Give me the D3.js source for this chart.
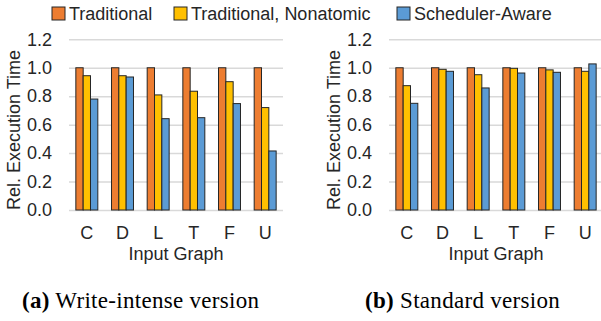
<!DOCTYPE html>
<html>
<head>
<meta charset="utf-8">
<script src="https://cdn.jsdelivr.net/npm/d3@7"></script>
<style>
  body { margin: 0; background: #fff; }
  svg { display: block; }
</style>
</head>
<body>
<div id="chart"></div>
<script>
// data
const graphs = ["C", "D", "L", "T", "F", "U"];
const seriesNames = ["Traditional", "Traditional, Nonatomic", "Scheduler-Aware"];
const colors = ["#ED7D31", "#FFC000", "#5B9BD5"];
const yTicks = [0, 0.2, 0.4, 0.6, 0.8, 1.0, 1.2];

// write-intense version
const writeTraditional = [1.0, 1.0, 1.0, 1.0, 1.0, 1.0];
const writeNonatomic = [0.944, 0.944, 0.809, 0.835, 0.902, 0.72];
const writeAware = [0.78, 0.935, 0.642, 0.649, 0.748, 0.415];

// standard version
const stdTraditional = [1.0, 1.0, 1.0, 1.0, 1.0, 1.0];
const stdNonatomic = [0.874, 0.989, 0.951, 0.996, 0.985, 0.975];
const stdAware = [0.75, 0.975, 0.858, 0.963, 0.968, 1.027];

const W = 601, H = 321;
const font = "'Liberation Sans', Arial, sans-serif";
const fs = 18;

const svg = d3.select("#chart").append("svg")
  .attr("width", W).attr("height", H);

// legend
const legendX = [52, 174, 397];
seriesNames.forEach((name, i) => {
  svg.append("rect")
    .attr("x", legendX[i]).attr("y", 7)
    .attr("width", 13).attr("height", 13)
    .attr("fill", colors[i]).attr("stroke", "#262626").attr("stroke-width", 1);
  svg.append("text")
    .attr("x", legendX[i] + 17).attr("y", 20)
    .attr("font-family", font).attr("font-size", fs).attr("fill", "#262626")
    .text(name);
});

function panel(left, right, series, caption, capX) {
  const y = d3.scaleLinear().domain([0, 1.2]).range([210, 39.3]);
  const x0 = d3.scaleBand().domain(graphs).range([left, right])
    .paddingInner(0.384).paddingOuter(0.192);
  const x1 = d3.scaleBand().domain([0, 1, 2]).range([0, x0.bandwidth()]);

  const g = svg.append("g");

  // gridlines via axis
  const yAxis = g.append("g")
    .attr("transform", "translate(" + left + ",0)")
    .call(d3.axisLeft(y).tickValues(yTicks).tickFormat(d3.format(".1f"))
      .tickSize(-(right - left)).tickPadding(17));
  yAxis.select(".domain").remove();
  yAxis.selectAll(".tick line").attr("stroke", "#D9D9D9").attr("stroke-width", 1.5);
  yAxis.selectAll(".tick text")
    .attr("font-family", font).attr("font-size", fs).attr("fill", "#262626");

  // bars
  const groups = g.selectAll(".grp").data(graphs).enter().append("g")
    .attr("transform", d => "translate(" + x0(d) + ",0)");
  groups.selectAll("rect")
    .data((d, gi) => series.map((s, si) => ({ si: si, v: s[gi] })))
    .enter().append("rect")
    .attr("x", d => x1(d.si))
    .attr("y", d => y(d.v))
    .attr("width", x1.bandwidth())
    .attr("height", d => y(0) - y(d.v))
    .attr("fill", d => colors[d.si])
    .attr("stroke", "#262626").attr("stroke-width", 1);

  // x labels
  g.selectAll(".xl").data(graphs).enter().append("text")
    .attr("x", d => x0(d) + x0.bandwidth() / 2).attr("y", 239)
    .attr("text-anchor", "middle")
    .attr("font-family", font).attr("font-size", fs).attr("fill", "#262626")
    .text(d => d);

  g.append("text")
    .attr("x", (left + right) / 2).attr("y", 260)
    .attr("text-anchor", "middle")
    .attr("font-family", font).attr("font-size", fs).attr("fill", "#262626")
    .text("Input Graph");

  g.append("text")
    .attr("transform", "translate(" + (left - 49) + ",130) rotate(-90)")
    .attr("text-anchor", "middle")
    .attr("font-family", font).attr("font-size", fs).attr("fill", "#262626")
    .text("Rel. Execution Time");

  const cap = svg.append("text")
    .attr("x", capX).attr("y", 308)
    .attr("font-family", "'Liberation Serif', 'DejaVu Serif', serif")
    .attr("font-size", 23).attr("letter-spacing", 0.3).attr("fill", "#000");
  cap.append("tspan").attr("font-weight", "bold").text(caption[0]);
  cap.append("tspan").text(" " + caption[1]);
}

panel(69, 283, [writeTraditional, writeNonatomic, writeAware], ["(a)", "Write-intense version"], 22);
panel(389, 603, [stdTraditional, stdNonatomic, stdAware], ["(b)", "Standard version"], 365);
</script>
</body>
</html>
